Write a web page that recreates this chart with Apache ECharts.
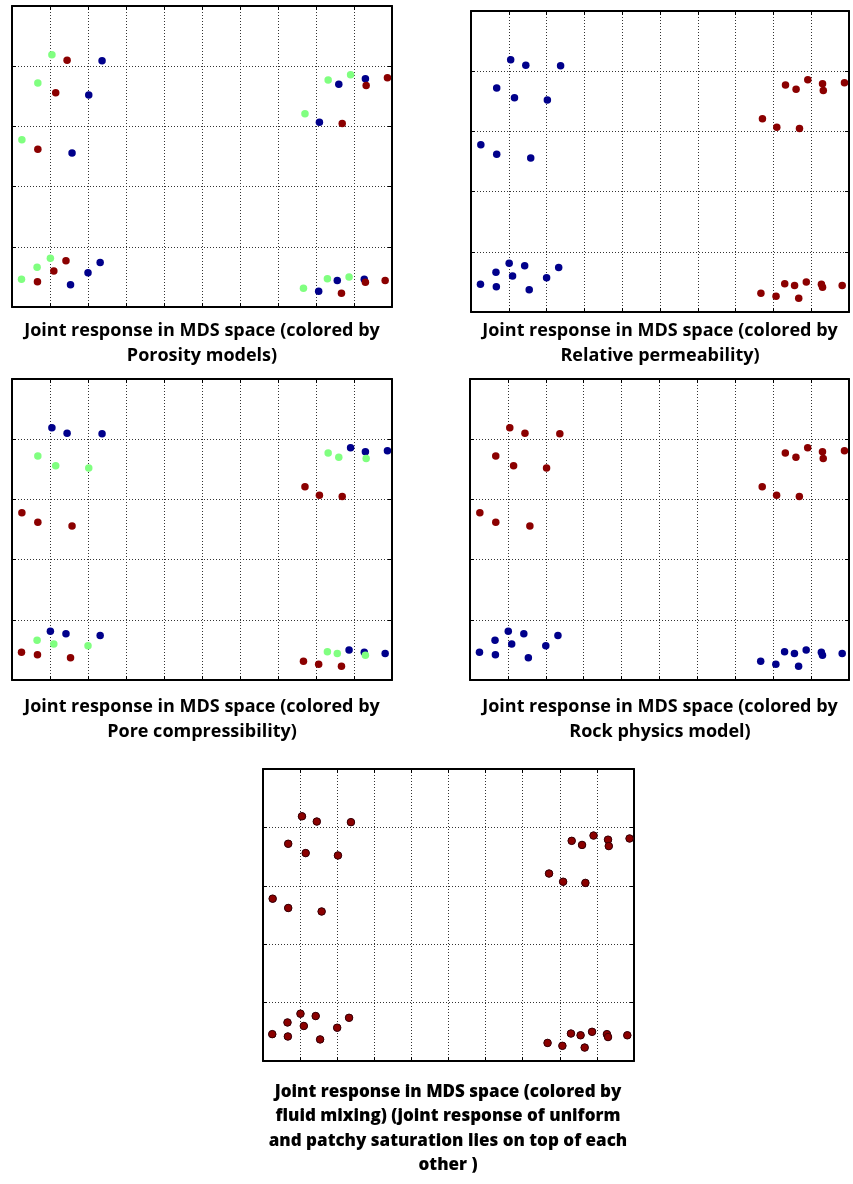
<!DOCTYPE html>
<html>
<head>
<meta charset="utf-8">
<script src="https://cdn.jsdelivr.net/npm/echarts@6/dist/echarts.min.js"></script>
<style>
html, body { margin: 0; padding: 0; background: #fff; }
#mdsChart { width: 853px; height: 1184px; }
</style>
</head>
<body>
<div id="mdsChart"></div>
<script>
// MDS coordinates of the 36 joint responses (same in every panel)
const mdsX = [
  1.05, 1.45, 2.37, 0.68, 1.15, 2.02, 0.26, 0.68, 1.58,
  8.32, 8.60, 8.91, 9.30, 9.32, 9.88, 7.71, 8.09, 8.69,
  1.01, 1.42, 0.66, 1.10, 2.00, 2.32, 0.25, 0.67, 1.54,
  8.30, 8.56, 8.87, 9.27, 9.30, 9.82, 7.67, 8.07, 8.67
];
const mdsY = [
  4.19, 4.10, 4.09, 3.72, 3.56, 3.52, 2.78, 2.62, 2.56,
  3.77, 3.70, 3.86, 3.79, 3.68, 3.81, 3.21, 3.07, 3.05,
  0.81, 0.77, 0.66, 0.60, 0.57, 0.74, 0.46, 0.42, 0.37,
  0.47, 0.44, 0.50, 0.46, 0.41, 0.44, 0.31, 0.26, 0.23
];

// class of each response per panel: b = blue, g = green, r = red
const porosityModel = [
  'g','r','b','g','r','b','g','r','b',
  'g','b','g','b','r','r','g','b','r',
  'g','r','g','r','b','b','g','r','b',
  'g','b','g','b','r','r','g','b','r'
];
const relPermeability = [
  'b','b','b','b','b','b','b','b','b',
  'r','r','r','r','r','r','r','r','r',
  'b','b','b','b','b','b','b','b','b',
  'r','r','r','r','r','r','r','r','r'
];
const poreCompress = [
  'b','b','b','g','g','g','r','r','r',
  'g','g','b','b','g','b','r','r','r',
  'b','b','g','g','g','b','r','r','r',
  'g','g','b','b','g','b','r','r','r'
];
const rockPhysics = [
  'r','r','r','r','r','r','r','r','r',
  'r','r','r','r','r','r','r','r','r',
  'b','b','b','b','b','b','b','b','b',
  'b','b','b','b','b','b','b','b','b'
];
// uniform (blue) and patchy (red) plot on top of each other
const fluidUniform = mdsX.map(() => 'b');
const fluidPatchy = mdsX.map(() => 'r');

const titles = [
  'Joint response in MDS space (colored by\nPorosity models)',
  'Joint response in MDS space (colored by\nRelative permeability)',
  'Joint response in MDS space (colored by\nPore compressibility)',
  'Joint response in MDS space (colored by\nRock physics model)',
  'Joint response in MDS space (colored by\nfluid mixing) (joint response of uniform\nand patchy saturation lies on top of each\nother )'
];

const colors = { b: '#00008b', g: '#80ff80', r: '#8b0000' };

const grids = [
  { left: 12, top: 6, width: 380, height: 301 },
  { left: 471, top: 11, width: 378, height: 301 },
  { left: 12, top: 379, width: 380, height: 301 },
  { left: 470, top: 379, width: 379, height: 301 },
  { left: 263, top: 769, width: 371, height: 292 }
];

const titlePos = [
  { left: 202, top: 318, lh: 25, size: 18, weight: 'bold' },
  { left: 660, top: 318, lh: 25, size: 18, weight: 'bold' },
  { left: 202, top: 694, lh: 25, size: 18, weight: 'bold' },
  { left: 660, top: 694, lh: 25, size: 18, weight: 'bold' },
  { left: 448, top: 1080, lh: 24.3, size: 17, weight: 800 }
];

const myChart = echarts.init(document.getElementById('mdsChart'));

let xAxes = [], yAxes = [], series = [];

const frame = { show: true, onZero: false, lineStyle: { color: '#000', width: 2 } };
const tick = { show: true, inside: true, length: 4, lineStyle: { color: '#000', width: 1 } };
const dotted = { show: true, lineStyle: { color: '#333', width: 1, type: [1, 2] } };

grids.forEach((g, i) => {
  xAxes.push({ gridIndex: i, type: 'value', min: 0, max: 10, interval: 1, position: 'bottom',
    axisLine: frame, axisLabel: { show: false }, axisTick: tick, splitLine: dotted });
  xAxes.push({ gridIndex: i, type: 'value', min: 0, max: 10, interval: 1, position: 'top',
    axisLine: frame, axisLabel: { show: false }, axisTick: tick, splitLine: { show: false } });
  yAxes.push({ gridIndex: i, type: 'value', min: 0, max: 5, interval: 1, position: 'left',
    axisLine: frame, axisLabel: { show: false }, axisTick: tick, splitLine: dotted });
  yAxes.push({ gridIndex: i, type: 'value', min: 0, max: 5, interval: 1, position: 'right',
    axisLine: frame, axisLabel: { show: false }, axisTick: tick, splitLine: { show: false } });
});

const addSeries = (panel, classes, order, border) => {
  order.forEach(c => {
    let pts = [];
    classes.forEach((k, j) => { if (k === c) pts.push([mdsX[j], mdsY[j]]); });
    if (!pts.length) return;
    series.push({
      type: 'scatter',
      xAxisIndex: panel * 2,
      yAxisIndex: panel * 2,
      data: pts,
      symbol: 'circle',
      symbolSize: 7.5,
      clip: false,
      silent: true,
      itemStyle: border
        ? { color: colors[c], borderColor: '#3a0000', borderWidth: 1, opacity: 1 }
        : { color: colors[c], opacity: 1 }
    });
  });
};

addSeries(0, porosityModel, ['b', 'g', 'r']);
addSeries(1, relPermeability, ['b', 'g', 'r']);
addSeries(2, poreCompress, ['b', 'g', 'r']);
addSeries(3, rockPhysics, ['b', 'g', 'r']);
addSeries(4, fluidUniform, ['b']);
addSeries(4, fluidPatchy, ['r'], true);

let option = {
  animation: false,
  backgroundColor: '#fff',
  title: titles.map((t, i) => ({
    text: t,
    left: titlePos[i].left,
    top: titlePos[i].top,
    textAlign: 'center',
    padding: 0,
    textStyle: {
      fontFamily: 'Open Sans',
      fontSize: titlePos[i].size,
      fontWeight: titlePos[i].weight,
      color: '#000',
      lineHeight: titlePos[i].lh
    }
  })),
  grid: grids,
  xAxis: xAxes,
  yAxis: yAxes,
  series: series
};
myChart.setOption(option);
</script>
</body>
</html>
